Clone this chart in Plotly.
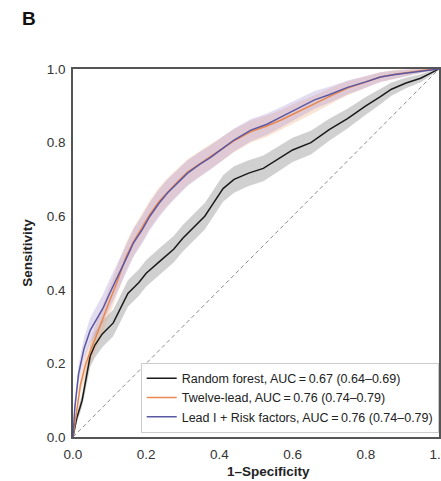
import plotly.graph_objects as go

# ---- data ----
rf_fpr = [0, 0.01, 0.025, 0.038, 0.047, 0.06, 0.08, 0.11, 0.13, 0.15, 0.18, 0.20, 0.24, 0.275, 0.30, 0.33, 0.36, 0.38, 0.41, 0.44, 0.48, 0.52, 0.56, 0.60, 0.65, 0.70, 0.75, 0.80, 0.84, 0.87, 0.91, 0.95, 0.98, 1.0]
rf_tpr = [0, 0.05, 0.10, 0.17, 0.22, 0.25, 0.28, 0.31, 0.35, 0.39, 0.42, 0.445, 0.48, 0.51, 0.54, 0.57, 0.60, 0.63, 0.675, 0.70, 0.717, 0.73, 0.755, 0.78, 0.80, 0.835, 0.865, 0.90, 0.925, 0.945, 0.962, 0.975, 0.99, 1.0]
rf_hw  = [0, 0.012, 0.018, 0.024, 0.03, 0.034, 0.036, 0.036, 0.036, 0.036, 0.036, 0.036, 0.036, 0.036, 0.036, 0.036, 0.036, 0.036, 0.036, 0.036, 0.035, 0.035, 0.034, 0.033, 0.032, 0.03, 0.027, 0.024, 0.021, 0.018, 0.014, 0.011, 0.006, 0]

tl_fpr = [0, 0.01, 0.02, 0.035, 0.05, 0.066, 0.085, 0.10, 0.12, 0.145, 0.165, 0.19, 0.21, 0.235, 0.26, 0.285, 0.313, 0.345, 0.376, 0.41, 0.44, 0.486, 0.53, 0.57, 0.61, 0.66, 0.70, 0.75, 0.80, 0.84, 0.88, 0.93, 0.97, 1.0]
tl_tpr = [0, 0.07, 0.14, 0.20, 0.24, 0.28, 0.33, 0.37, 0.42, 0.49, 0.53, 0.57, 0.605, 0.64, 0.668, 0.693, 0.72, 0.742, 0.762, 0.785, 0.805, 0.83, 0.845, 0.862, 0.882, 0.905, 0.925, 0.948, 0.965, 0.978, 0.986, 0.993, 0.998, 1.0]
tl_hw  = [0, 0.018, 0.024, 0.03, 0.034, 0.036, 0.038, 0.038, 0.038, 0.038, 0.038, 0.038, 0.038, 0.038, 0.037, 0.036, 0.035, 0.034, 0.033, 0.032, 0.031, 0.03, 0.029, 0.027, 0.026, 0.024, 0.022, 0.019, 0.016, 0.013, 0.011, 0.008, 0.004, 0]

lr_fpr = [0, 0.005, 0.015, 0.03, 0.047, 0.065, 0.082, 0.10, 0.12, 0.148, 0.165, 0.19, 0.21, 0.235, 0.258, 0.285, 0.313, 0.345, 0.376, 0.41, 0.44, 0.486, 0.53, 0.569, 0.61, 0.66, 0.70, 0.75, 0.80, 0.84, 0.88, 0.93, 0.97, 1.0]
lr_tpr = [0, 0.08, 0.17, 0.24, 0.29, 0.32, 0.35, 0.39, 0.43, 0.49, 0.527, 0.565, 0.60, 0.635, 0.663, 0.69, 0.717, 0.74, 0.76, 0.785, 0.807, 0.834, 0.85, 0.87, 0.89, 0.916, 0.93, 0.95, 0.965, 0.978, 0.985, 0.992, 0.997, 1.0]
lr_hw  = [0, 0.018, 0.024, 0.03, 0.034, 0.036, 0.038, 0.038, 0.038, 0.038, 0.038, 0.038, 0.038, 0.038, 0.037, 0.036, 0.035, 0.034, 0.033, 0.032, 0.031, 0.03, 0.029, 0.027, 0.026, 0.024, 0.022, 0.019, 0.016, 0.013, 0.011, 0.008, 0.004, 0]

names = ["Random forest, AUC\u2009=\u20090.67 (0.64\u20130.69)",
         "Twelve-lead, AUC\u2009=\u20090.76 (0.74\u20130.79)",
         "Lead I + Risk factors, AUC\u2009=\u20090.76 (0.74\u20130.79)"]
line_colors = ["#1a1a1a", "#e8874f", "#5b58a3"]
band_colors = ["rgba(150,150,150,0.45)", "rgba(240,165,120,0.30)", "rgba(160,140,210,0.30)"]

x_ticks = [0.0, 0.2, 0.4, 0.6, 0.8, 1.0]
y_ticks = [0.0, 0.2, 0.4, 0.6, 0.8, 1.0]

series = [(rf_fpr, rf_tpr, rf_hw), (tl_fpr, tl_tpr, tl_hw), (lr_fpr, lr_tpr, lr_hw)]

fig = go.Figure()

# chance diagonal
fig.add_trace(go.Scatter(x=[0, 1], y=[0, 1], mode="lines",
                         line=dict(color="#8a8a8a", width=1, dash="4px,3px"),
                         showlegend=False, hoverinfo="skip"))

# confidence bands
for (fx, ty, hw), bc in zip(series, band_colors):
    up = [min(1.0, t + h) for t, h in zip(ty, hw)]
    lo = [max(0.0, t - h) for t, h in zip(ty, hw)]
    fig.add_trace(go.Scatter(x=fx + fx[::-1], y=up + lo[::-1], fill="toself",
                             fillcolor=bc, line=dict(width=0), mode="lines",
                             showlegend=False, hoverinfo="skip"))

# curves
for (fx, ty, hw), nm, lc in zip(series, names, line_colors):
    fig.add_trace(go.Scatter(x=fx, y=ty, mode="lines", name=nm,
                             line=dict(color=lc, width=1.5)))

font_family = "Liberation Sans, Arial, sans-serif"

fig.update_layout(
    width=441, height=481,
    margin=dict(l=73, r=2, t=69, b=44, autoexpand=False),
    paper_bgcolor="white", plot_bgcolor="white",
    font=dict(family=font_family, size=13.5, color="#333333"),
    showlegend=True,
    legend=dict(x=0.185, y=0.012, xanchor="left", yanchor="bottom",
                bgcolor="rgba(255,255,255,0.9)", bordercolor="#cccccc", borderwidth=1,
                font=dict(size=12.5, color="#222222"), itemwidth=30,
                tracegroupgap=0),
    xaxis=dict(range=[0, 1], tickvals=x_ticks, ticktext=[f"{v:.1f}" for v in x_ticks],
               showgrid=False, zeroline=False, showline=True, mirror=True,
               linecolor="#555555", linewidth=1.5, ticks="", ticklabelstandoff=4,
               ticklabeloverflow="allow", automargin=False),
    yaxis=dict(range=[0, 1], tickvals=y_ticks, ticktext=[f"{v:.1f}" for v in y_ticks],
               showgrid=False, zeroline=False, showline=True, mirror=True,
               linecolor="#555555", linewidth=1.5, ticks="", ticklabelstandoff=3,
               automargin=False,
               title=dict(text="<b>Sensitivity</b>", font=dict(size=13.5, color="#222222"), standoff=11)),
    annotations=[
        dict(text="<b>B</b>", xref="paper", yref="paper", x=-0.145, y=1.17,
             xanchor="left", yanchor="top", showarrow=False,
             font=dict(size=19, color="#111111")),
        dict(text="<b>1\u2013Specificity</b>", xref="paper", yref="paper", x=0.535, y=-0.068,
             xanchor="center", yanchor="top", showarrow=False,
             font=dict(size=13.5, color="#222222")),
    ],
)

fig.write_html("out.html", config={"displayModeBar": False},
               post_script="document.body.style.margin='0';document.body.style.overflow='hidden';")
